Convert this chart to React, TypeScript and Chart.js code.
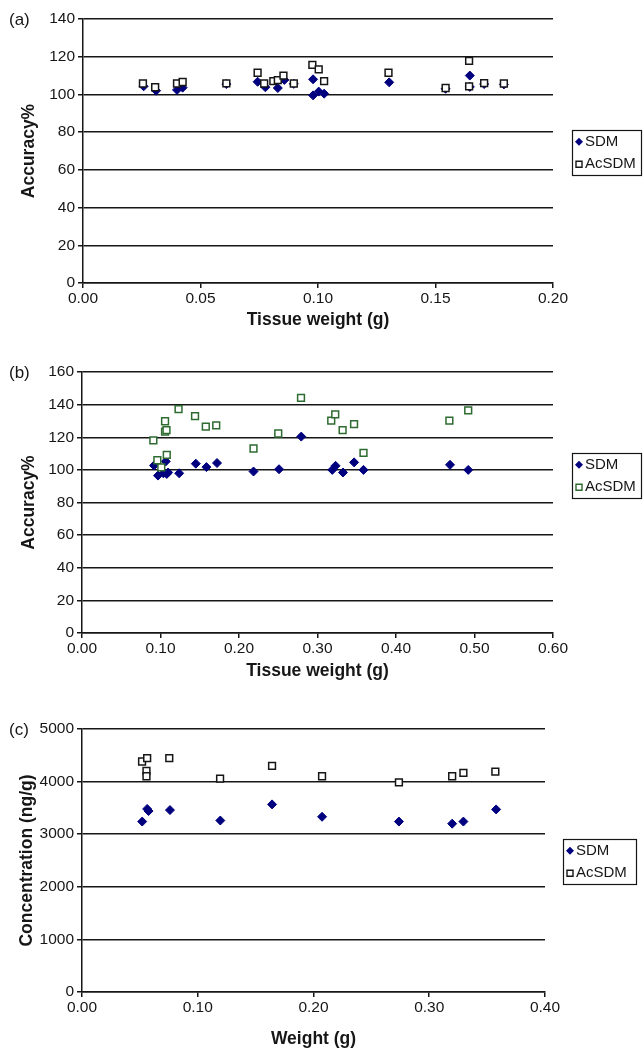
import React, { useEffect, useRef } from "react";
import { Chart, registerables } from "chart.js";
Chart.register(...registerables);

const FONT = '"Liberation Sans", Arial, Helvetica, sans-serif';
const INK = "#161616";
const NAVY = "#00007f";
const GREEN = "#2e6b30";

// ---- Panel (a): Accuracy% vs tissue weight ----
const aSdmX = [0.0258, 0.0311, 0.040, 0.0424, 0.061, 0.0743, 0.0776, 0.0829, 0.0857, 0.0897, 0.0979, 0.0979, 0.1003, 0.1026, 0.1303, 0.1543, 0.1646, 0.1646, 0.1707, 0.1791];
const aSdmY = [104.3, 102.0, 102.4, 103.6, 105.5, 106.7, 103.8, 103.4, 107.7, 105.6, 108.0, 99.5, 101.5, 100.4, 106.4, 103.0, 110.0, 104.0, 105.5, 105.3];
const aAcX = [0.0255, 0.0307, 0.040, 0.0424, 0.061, 0.0743, 0.0771, 0.081, 0.0829, 0.0853, 0.0897, 0.0976, 0.1003, 0.1026, 0.130, 0.1543, 0.1643, 0.1643, 0.1707, 0.1791];
const aAcY = [105.8, 103.8, 105.8, 106.6, 105.9, 111.5, 105.8, 107.0, 107.6, 110.0, 105.8, 115.7, 113.3, 107.0, 111.5, 103.4, 117.8, 104.3, 106.0, 105.8];
const aXTicks = [0, 0.05, 0.1, 0.15, 0.2];
const aYTicks = [0, 20, 40, 60, 80, 100, 120, 140];

// ---- Panel (b) ----
const bSdmX = [0.0917, 0.0968, 0.1037, 0.1067, 0.108, 0.1097, 0.1238, 0.145, 0.1585, 0.172, 0.2185, 0.251, 0.2793, 0.3188, 0.323, 0.3325, 0.3466, 0.3586, 0.4688, 0.492];
const bSdmY = [102.7, 96.5, 97.9, 105.2, 97.5, 98.4, 97.9, 103.8, 101.7, 104.2, 99.0, 100.4, 120.4, 100.0, 102.5, 98.4, 104.6, 100.0, 103.1, 100.0];
const bAcX = [0.0909, 0.096, 0.101, 0.1058, 0.1058, 0.1076, 0.108, 0.123, 0.144, 0.1577, 0.171, 0.2185, 0.250, 0.279, 0.3175, 0.3226, 0.332, 0.3466, 0.3586, 0.468, 0.492];
const bAcY = [118.1, 105.9, 101.5, 129.8, 123.4, 124.4, 109.2, 137.3, 132.9, 126.5, 127.3, 113.1, 122.3, 144.2, 130.2, 134.0, 124.4, 128.1, 110.4, 130.2, 136.5];
const bXTicks = [0, 0.1, 0.2, 0.3, 0.4, 0.5, 0.6];
const bYTicks = [0, 20, 40, 60, 80, 100, 120, 140, 160];

// ---- Panel (c): Concentration vs weight ----
const cSdmX = [0.052, 0.0563, 0.0575, 0.076, 0.1195, 0.1642, 0.2074, 0.2738, 0.3198, 0.3295, 0.3578];
const cSdmY = [3240, 3480, 3440, 3459, 3260, 3567, 3331, 3240, 3200, 3240, 3471];
const cAcX = [0.0519, 0.0563, 0.0557, 0.0557, 0.0754, 0.1193, 0.1642, 0.2074, 0.2738, 0.3198, 0.3295, 0.3571];
const cAcY = [4382, 4446, 4204, 4102, 4446, 4057, 4299, 4102, 3987, 4102, 4166, 4191];
const cXTicks = [0, 0.1, 0.2, 0.3, 0.4];
const cYTicks = [0, 1000, 2000, 3000, 4000, 5000];

const seriesLabels = ["SDM", "AcSDM"];

type Panel = {
  letter: string;
  top: number;
  height: number;
  padTop: number;
  padRight: number;
  yWidth: number;
  xHeight: number;
  xTitle: string;
  yTitle: string;
  xTitlePad: number;
  yTitlePad: number;
  xMax: number;
  yMax: number;
  xTicks: number[];
  yTicks: number[];
  sdmX: number[];
  sdmY: number[];
  acX: number[];
  acY: number[];
  acColor: string;
  legend: { x: number; y: number; w: number; h: number };
};

const panels: Panel[] = [
  {
    letter: "(a)", top: 0, height: 340, padTop: 19, padRight: 91, yWidth: 83, xHeight: 57,
    xTitle: "Tissue weight (g)", yTitle: "Accuracy%", xTitlePad: 9.5, yTitlePad: 18.5,
    xMax: 0.2, yMax: 140, xTicks: aXTicks, yTicks: aYTicks,
    sdmX: aSdmX, sdmY: aSdmY, acX: aAcX, acY: aAcY, acColor: INK,
    legend: { x: 572, y: 130, w: 69, h: 45 },
  },
  {
    letter: "(b)", top: 345, height: 345, padTop: 27, padRight: 91, yWidth: 82, xHeight: 57,
    xTitle: "Tissue weight (g)", yTitle: "Accuracy%", xTitlePad: 8.5, yTitlePad: 18.5,
    xMax: 0.6, yMax: 160, xTicks: bXTicks, yTicks: bYTicks,
    sdmX: bSdmX, sdmY: bSdmY, acX: bAcX, acY: bAcY, acColor: GREEN,
    legend: { x: 572, y: 108, w: 69, h: 45 },
  },
  {
    letter: "(c)", top: 700, height: 352, padTop: 29, padRight: 99, yWidth: 82, xHeight: 60,
    xTitle: "Weight (g)", yTitle: "Concentration (ng/g)", xTitlePad: 2, yTitlePad: 16.5,
    xMax: 0.4, yMax: 5000, xTicks: cXTicks, yTicks: cYTicks,
    sdmX: cSdmX, sdmY: cSdmY, acX: cAcX, acY: cAcY, acColor: INK,
    legend: { x: 563, y: 139, w: 73, h: 45 },
  },
];

function decorPlugin(p: Panel) {
  return {
    id: "decor" + p.letter,
    afterDraw(chart: any) {
      const ctx: CanvasRenderingContext2D = chart.ctx;
      ctx.save();
      ctx.fillStyle = INK;
      ctx.textBaseline = "middle";
      ctx.textAlign = "left";
      ctx.font = `17px ${FONT}`;
      ctx.fillText(p.letter, 9, p.padTop + 1);
      const b = p.legend;
      ctx.strokeStyle = INK;
      ctx.lineWidth = 1.2;
      ctx.strokeRect(b.x + 0.5, b.y + 0.5, b.w, b.h);
      ctx.font = `15px ${FONT}`;
      chart.data.datasets.forEach((ds: any, i: number) => {
        const cy = b.y + (b.h * (1 + 2 * i)) / 4 + 0.5;
        const mx = b.x + 7;
        ctx.beginPath();
        if (ds.pointStyle === "rectRot") {
          ctx.moveTo(mx - 4, cy);
          ctx.lineTo(mx, cy - 4);
          ctx.lineTo(mx + 4, cy);
          ctx.lineTo(mx, cy + 4);
          ctx.closePath();
          ctx.fillStyle = ds.backgroundColor;
          ctx.fill();
        } else {
          ctx.rect(mx - 3, cy - 3, 6, 6);
          ctx.fillStyle = "#fff";
          ctx.fill();
          ctx.strokeStyle = ds.borderColor;
          ctx.lineWidth = 1.4;
          ctx.stroke();
        }
        ctx.fillStyle = INK;
        ctx.fillText(ds.label, b.x + 13, cy);
      });
      ctx.restore();
    },
  };
}

function makeConfig(p: Panel): any {
  const pts = (xs: number[], ys: number[]) => xs.map((x, i) => ({ x, y: ys[i] }));
  return {
    type: "scatter",
    data: {
      datasets: [
        {
          label: seriesLabels[0],
          data: pts(p.sdmX, p.sdmY),
          pointStyle: "rectRot",
          pointRadius: 4.5,
          pointHoverRadius: 4.5,
          backgroundColor: NAVY,
          borderColor: NAVY,
          borderWidth: 1,
          order: 1,
        },
        {
          label: seriesLabels[1],
          data: pts(p.acX, p.acY),
          pointStyle: "rect",
          pointRadius: 4.8,
          pointHoverRadius: 4.8,
          backgroundColor: "#ffffff",
          borderColor: p.acColor,
          borderWidth: 1.5,
          order: 0,
        },
      ],
    },
    options: {
      responsive: false,
      animation: false,
      devicePixelRatio: 1,
      layout: { padding: { top: p.padTop, right: p.padRight, bottom: 0, left: 0 } },
      plugins: { legend: { display: false }, tooltip: { enabled: false } },
      scales: {
        x: {
          type: "linear",
          min: 0,
          max: p.xMax,
          afterBuildTicks: (s: any) => { s.ticks = p.xTicks.map((v) => ({ value: v })); },
          afterFit: (s: any) => { s.height = p.xHeight; },
          ticks: {
            color: INK,
            font: { family: FONT, size: 15.5 },
            padding: 1,
            maxRotation: 0,
            autoSkip: false,
            callback: (v: any) => Number(v).toFixed(2),
          },
          grid: { drawOnChartArea: false, drawTicks: true, tickLength: 5, color: INK, lineWidth: 1.5 },
          border: { display: true, color: INK, width: 1.5 },
          title: {
            display: true,
            text: p.xTitle,
            color: INK,
            font: { family: FONT, size: 17.5, weight: "bold" },
            padding: { top: 0, bottom: p.xTitlePad },
          },
        },
        y: {
          type: "linear",
          min: 0,
          max: p.yMax,
          afterBuildTicks: (s: any) => { s.ticks = p.yTicks.map((v) => ({ value: v })); },
          afterFit: (s: any) => { s.width = p.yWidth; },
          ticks: {
            color: INK,
            font: { family: FONT, size: 15.5 },
            padding: 3,
            autoSkip: false,
            callback: (v: any) => String(v),
          },
          grid: { drawOnChartArea: true, drawTicks: true, tickLength: 5, color: INK, lineWidth: 1.5, tickColor: INK },
          border: { display: true, color: INK, width: 1.5 },
          title: {
            display: true,
            text: p.yTitle,
            color: INK,
            font: { family: FONT, size: 17.5, weight: "bold" },
            padding: { top: p.yTitlePad, bottom: 0 },
          },
        },
      },
    },
    plugins: [decorPlugin(p)],
  };
}

function PanelChart({ p }: { p: Panel }) {
  const ref = useRef<HTMLCanvasElement | null>(null);
  useEffect(() => {
    if (!ref.current) return;
    const chart = new Chart(ref.current, makeConfig(p));
    return () => chart.destroy();
  }, [p]);
  return (
    <canvas
      ref={ref}
      width={644}
      height={p.height}
      style={{ position: "absolute", left: 0, top: p.top, width: 644, height: p.height }}
    />
  );
}

export default function App() {
  return (
    <div style={{ position: "relative", width: 644, height: 1052, background: "#fff" }}>
      <style>{`body{margin:0;background:#fff}`}</style>
      {panels.map((p) => (
        <PanelChart key={p.letter} p={p} />
      ))}
    </div>
  );
}
